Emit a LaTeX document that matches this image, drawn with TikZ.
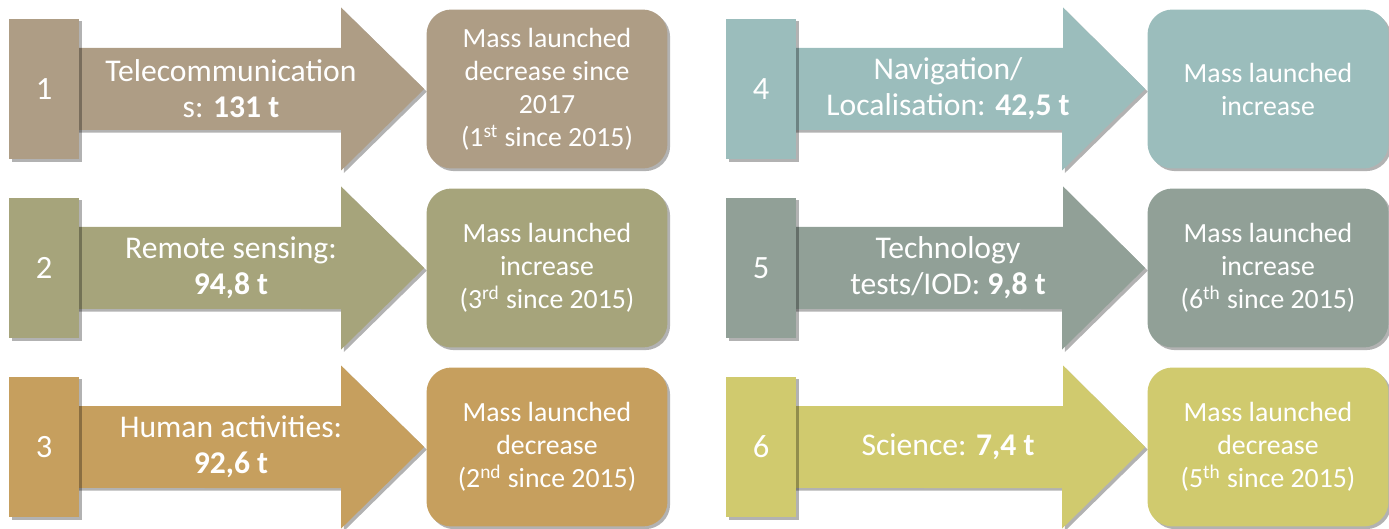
\documentclass[tikz,border=0pt]{standalone}
\usepackage{fontspec}
\setmainfont{Carlito}
\usetikzlibrary{shadows,backgrounds}

\definecolor{telecom}{RGB}{174,157,133}
\definecolor{remote}{RGB}{166,164,123}
\definecolor{human}{RGB}{198,159,94}
\definecolor{navig}{RGB}{155,189,188}
\definecolor{techtest}{RGB}{145,160,151}
\definecolor{science}{RGB}{208,202,110}

\begin{document}
\begin{tikzpicture}[x=0.02cm, y=0.02cm,
    softshadow/.style={drop shadow={shadow xshift=1.5pt, shadow yshift=-1.5pt, opacity=.3, fill=black}},
    numtab/.style={fill=#1, softshadow, minimum width=1.4cm, minimum height=2.82cm, inner sep=0pt,
        text=white, font=\fontsize{18.5}{21}\selectfont},
    outbox/.style={fill=#1, softshadow, rounded corners=0.5cm, minimum width=4.82cm, minimum height=3.18cm,
        inner sep=2pt, align=center, text=white, font=\fontsize{15.8}{18.8}\selectfont},
    lbl/.style={align=center, text=white, font=\fontsize{18}{20.5}\selectfont},
    arrowbody/.style={fill=#1, softshadow}]
    \useasboundingbox (0,0) rectangle (1389,528);

    % linke Spalte
    \node[numtab=telecom] (t1) at (44,439) {1};
    \node[outbox=telecom] (b1) at (547,439) {Mass launched\\decrease since\\2017\\(1\textsuperscript{st} since 2015)};
    \node[lbl] (l1) at (231,439) {Telecommunication\\s: \textbf{131 t}};

    \node[numtab=remote] (t2) at (44,260) {2};
    \node[outbox=remote] (b2) at (547,260) {Mass launched\\increase\\(3\textsuperscript{rd} since 2015)};
    \node[lbl] (l2) at (231,260) {Remote sensing:\\\textbf{94,8 t}};

    \node[numtab=human] (t3) at (44,81) {3};
    \node[outbox=human] (b3) at (547,81) {Mass launched\\decrease\\(2\textsuperscript{nd} since 2015)};
    \node[lbl] (l3) at (231,81) {Human activities:\\\textbf{92,6 t}};

    % rechte Spalte
    \node[numtab=navig] (t4) at (761,439) {4};
    \node[outbox=navig] (b4) at (1268,439) {Mass launched\\increase};
    \node[lbl] (l4) at (948,439) {Navigation/\\Localisation: \textbf{42,5 t}};

    \node[numtab=techtest] (t5) at (761,260) {5};
    \node[outbox=techtest] (b5) at (1268,260) {Mass launched\\increase\\(6\textsuperscript{th} since 2015)};
    \node[lbl] (l5) at (948,260) {Technology\\tests/IOD: \textbf{9,8 t}};

    \node[numtab=science] (t6) at (761,81) {6};
    \node[outbox=science] (b6) at (1268,81) {Mass launched\\decrease\\(5\textsuperscript{th} since 2015)};
    \node[lbl] (l6) at (948,81) {Science: \textbf{7,4 t}};

    % Pfeile hinter den Kaesten
    \begin{scope}[on background layer]
        \fill[arrowbody=telecom] (t1.center) ++(0,41) -- ++(297,0) -- ++(0,40.5) -- ([xshift=-0.04cm]b1.west)
            -- ++(-83,-81.5) -- ++(0,40.5) -- ([yshift=-0.82cm]t1.center) -- cycle;
        \fill[arrowbody=remote] (t2.center) ++(0,41) -- ++(297,0) -- ++(0,40.5) -- ([xshift=-0.04cm]b2.west)
            -- ++(-83,-81.5) -- ++(0,40.5) -- ([yshift=-0.82cm]t2.center) -- cycle;
        \fill[arrowbody=human] (t3.center) ++(0,41) -- ++(297,0) -- ++(0,40.5) -- ([xshift=-0.04cm]b3.west)
            -- ++(-83,-81.5) -- ++(0,40.5) -- ([yshift=-0.82cm]t3.center) -- cycle;
        \fill[arrowbody=navig] (t4.center) ++(0,41) -- ++(302,0) -- ++(0,40.5) -- ([xshift=-0.04cm]b4.west)
            -- ++(-83,-81.5) -- ++(0,40.5) -- ([yshift=-0.82cm]t4.center) -- cycle;
        \fill[arrowbody=techtest] (t5.center) ++(0,41) -- ++(302,0) -- ++(0,40.5) -- ([xshift=-0.04cm]b5.west)
            -- ++(-83,-81.5) -- ++(0,40.5) -- ([yshift=-0.82cm]t5.center) -- cycle;
        \fill[arrowbody=science] (t6.center) ++(0,41) -- ++(302,0) -- ++(0,40.5) -- ([xshift=-0.04cm]b6.west)
            -- ++(-83,-81.5) -- ++(0,40.5) -- ([yshift=-0.82cm]t6.center) -- cycle;
    \end{scope}
\end{tikzpicture}
\end{document}
